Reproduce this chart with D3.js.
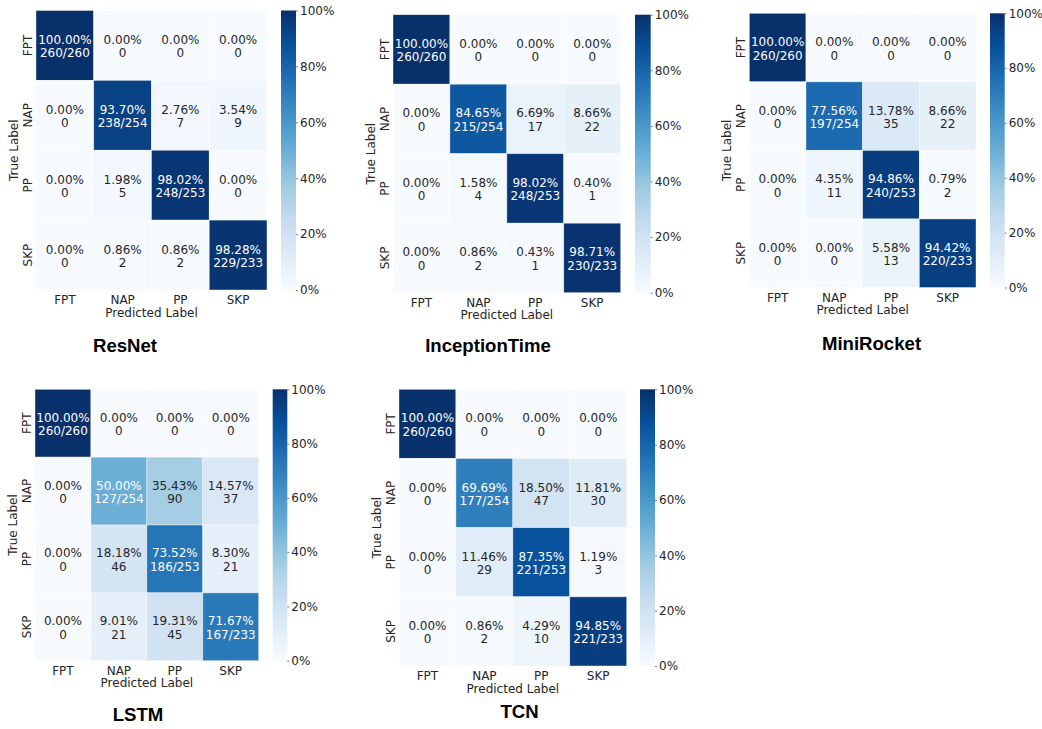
<!DOCTYPE html>
<html>
<head>
<meta charset="utf-8">
<script src="https://cdn.jsdelivr.net/npm/d3@7"></script>
<style>
  html, body { margin: 0; padding: 0; background: #fff; }
  svg { display: block; }
  .tick-text { font-family: "DejaVu Sans", sans-serif; font-size: 12px; fill: #262626; }
  .title { font-family: "Liberation Sans", Arial, sans-serif; font-size: 18.6px; font-weight: bold; fill: #000; }
</style>
</head>
<body>
<svg id="chart" width="1042" height="729"></svg>
<script>
// Class labels (rows = true, columns = predicted)
const classes = ["FPT", "NAP", "PP", "SKP"];
const modelNames = ["ResNet", "InceptionTime", "MiniRocket", "LSTM", "TCN"];
const colorbarTicks = [0, 20, 40, 60, 80, 100];

// Confusion-matrix counts per model
const resnetCounts = [
  [260, 0, 0, 0],
  [0, 238, 7, 9],
  [0, 5, 248, 0],
  [0, 2, 2, 229]
];
const inceptionCounts = [
  [260, 0, 0, 0],
  [0, 215, 17, 22],
  [0, 4, 248, 1],
  [0, 2, 1, 230]
];
const miniRocketCounts = [
  [260, 0, 0, 0],
  [0, 197, 35, 22],
  [0, 11, 240, 2],
  [0, 0, 13, 220]
];
const lstmCounts = [
  [260, 0, 0, 0],
  [0, 127, 90, 37],
  [0, 46, 186, 21],
  [0, 21, 45, 167]
];
const tcnCounts = [
  [260, 0, 0, 0],
  [0, 177, 47, 30],
  [0, 29, 221, 3],
  [0, 2, 10, 221]
];
const allCounts = [resnetCounts, inceptionCounts, miniRocketCounts, lstmCounts, tcnCounts];

// Panel placement: heatmap box, colorbar x, title anchor
const layout = [
  { x0: 36,    x1: 267,   y0: 10.5,  y1: 290,   cb0: 281,   cb1: 296,   tx: 125,   ty: 352 },
  { x0: 393,   x1: 620.7, y0: 14.7,  y1: 292.7, cb0: 635,   cb1: 650.7, tx: 488,   ty: 352 },
  { x0: 749.3, x1: 976,   y0: 13.3,  y1: 287.5, cb0: 990,   cb1: 1004.7,tx: 871.5, ty: 350 },
  { x0: 35,    x1: 258.7, y0: 389.3, y1: 660.7, cb0: 272.7, cb1: 287.3, tx: 138,   ty: 721 },
  { x0: 399,   x1: 626.7, y0: 389.3, y1: 666,   cb0: 640,   cb1: 655,   tx: 519.5, ty: 718 }
];

// Sequential blues colour map (9 anchor colours, linear between them)
const blues9 = ["#f7fbff","#deebf7","#c6dbef","#9ecae1","#6baed6","#4292c6","#2171b5","#08519c","#08306b"];
const cmap = d3.scaleLinear()
  .domain(blues9.map((_, i) => i / (blues9.length - 1)))
  .range(blues9)
  .interpolate(d3.interpolateRgb)
  .clamp(true);

function relLum(c) {
  const rgb = d3.rgb(c);
  const f = v => { v /= 255; return v <= 0.03928 ? v / 12.92 : Math.pow((v + 0.055) / 1.055, 2.4); };
  return 0.2126 * f(rgb.r) + 0.7152 * f(rgb.g) + 0.0722 * f(rgb.b);
}

const svg = d3.select("#chart");
const defs = svg.append("defs");
const grad = defs.append("linearGradient")
  .attr("id", "bluesGrad").attr("x1", 0).attr("y1", 1).attr("x2", 0).attr("y2", 0);
blues9.forEach((c, i) => grad.append("stop")
  .attr("offset", (i / (blues9.length - 1) * 100) + "%").attr("stop-color", c));

allCounts.forEach((counts, m) => {
  const L = layout[m];
  const g = svg.append("g");
  const totals = counts.map(r => d3.sum(r));

  const x = d3.scaleBand().domain(classes).range([L.x0, L.x1]);
  const y = d3.scaleBand().domain(classes).range([L.y0, L.y1]);

  const cells = [];
  counts.forEach((row, i) => row.forEach((v, j) => {
    cells.push({ t: classes[i], p: classes[j], v, frac: v / totals[i], diag: i === j, total: totals[i] });
  }));

  g.selectAll("rect.cell").data(cells).join("rect")
    .attr("class", "cell")
    .attr("x", d => x(d.p)).attr("y", d => y(d.t))
    .attr("width", x.bandwidth()).attr("height", y.bandwidth())
    .attr("fill", d => cmap(d.frac))
    .attr("stroke", "#ffffff").attr("stroke-opacity", 0.55).attr("stroke-width", 0.7);

  const txt = g.selectAll("text.ann").data(cells).join("text")
    .attr("class", "tick-text ann")
    .attr("text-anchor", "middle")
    .style("fill", d => relLum(cmap(d.frac)) > 0.408 ? "#262626" : "#ffffff");
  txt.append("tspan")
    .attr("x", d => x(d.p) + x.bandwidth() / 2)
    .attr("y", d => y(d.t) + y.bandwidth() / 2 - 1.5)
    .text(d => (d.frac * 100).toFixed(2) + "%");
  txt.append("tspan")
    .attr("x", d => x(d.p) + x.bandwidth() / 2)
    .attr("y", d => y(d.t) + y.bandwidth() / 2 + 12)
    .text(d => d.diag ? d.v + "/" + d.total : d.v);

  // x tick labels
  g.selectAll("text.xt").data(classes).join("text")
    .attr("class", "tick-text xt")
    .attr("text-anchor", "middle")
    .attr("x", d => x(d) + x.bandwidth() / 2)
    .attr("y", L.y1 + 14)
    .text(d => d);
  g.append("text").attr("class", "tick-text")
    .attr("text-anchor", "middle")
    .attr("x", (L.x0 + L.x1) / 2).attr("y", L.y1 + 26.5)
    .text("Predicted Label");

  // y tick labels (rotated)
  g.selectAll("text.yt").data(classes).join("text")
    .attr("class", "tick-text yt")
    .attr("text-anchor", "middle")
    .attr("transform", d => `translate(${L.x0 - 4.5},${y(d) + y.bandwidth() / 2}) rotate(-90)`)
    .text(d => d);
  g.append("text").attr("class", "tick-text")
    .attr("text-anchor", "middle")
    .attr("transform", `translate(${L.x0 - 18.5},${(L.y0 + L.y1) / 2}) rotate(-90)`)
    .text("True Label");

  // colorbar
  g.append("rect")
    .attr("x", L.cb0).attr("y", L.y0)
    .attr("width", L.cb1 - L.cb0).attr("height", L.y1 - L.y0)
    .attr("fill", "url(#bluesGrad)");
  const cy = d3.scaleLinear().domain([0, 100]).range([L.y1, L.y0]);
  const axis = d3.axisRight(cy).tickValues(colorbarTicks).tickSize(2).tickPadding(2)
    .tickFormat(d => d + "%");
  const ax = g.append("g").attr("transform", `translate(${L.cb1},0)`).call(axis);
  ax.select(".domain").remove();
  ax.selectAll("line").attr("stroke", "#262626").attr("stroke-width", 0.6);
  ax.selectAll("text").attr("class", "tick-text").attr("font-size", null).attr("font-family", null);

  // model title
  svg.append("text").attr("class", "title")
    .attr("text-anchor", "middle")
    .attr("x", L.tx).attr("y", L.ty)
    .text(modelNames[m]);
});
</script>
</body>
</html>
